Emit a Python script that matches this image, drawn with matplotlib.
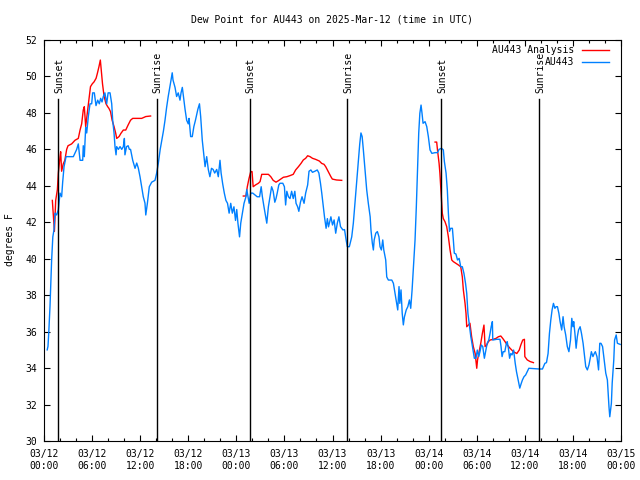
import matplotlib
matplotlib.use('Agg')
import matplotlib.pyplot as plt
from matplotlib.ticker import MultipleLocator

nan = float('nan')

title = 'Dew Point for AU443 on 2025-Mar-12 (time in UTC)'
y_label = 'degrees F'
tick_hours = list(range(0, 73, 6))
tick_labels = ['03/12\n00:00', '03/12\n06:00', '03/12\n12:00', '03/12\n18:00',
               '03/13\n00:00', '03/13\n06:00', '03/13\n12:00', '03/13\n18:00',
               '03/14\n00:00', '03/14\n06:00', '03/14\n12:00', '03/14\n18:00',
               '03/15\n00:00']
y_ticks = list(range(30, 53, 2))

# sunrise / sunset, hours after 03/12 00:00 UTC
sun_hours = [1.8, 14.05, 25.7, 37.85, 49.6, 61.8]
sun_names = ['Sunset', 'Sunrise', 'Sunset', 'Sunrise', 'Sunset', 'Sunrise']

# observed dew point (AU443)
obs_hours = [0.4, 0.5, 0.6, 0.75, 0.85, 0.95, 1.1, 1.25, 1.37, 1.58, 1.79, 2.0, 2.2, 2.33, 2.5,
             2.75, 3.66, 4.08, 4.28, 4.5, 4.83, 4.9, 5.03, 5.2, 5.33, 5.53, 5.74, 5.95, 6.07,
             6.28, 6.49, 6.7, 6.9, 7.07, 7.24, 7.4, 7.6, 7.82, 8.0, 8.24, 8.45, 8.57, 8.74,
             8.86, 8.99, 9.07, 9.28, 9.49, 9.7, 9.9, 10.03, 10.1, 10.3, 10.5, 10.65, 10.8,
             11.07, 11.36, 11.57, 11.77, 11.98, 12.19, 12.39, 12.6, 12.7, 12.9, 13.14, 13.44,
             13.85, 14.06, 14.27, 14.5, 14.7, 14.9, 15.1, 15.3, 15.5, 15.7, 15.85, 16.0, 16.1,
             16.35, 16.55, 16.75, 16.97, 17.1, 17.26, 17.4, 17.6, 17.8, 18.0, 18.1, 18.3, 18.5,
             18.7, 18.9, 19.2, 19.4, 19.55, 19.75, 19.97, 20.1, 20.3, 20.5, 20.7, 20.9, 21.1,
             21.3, 21.55, 21.75, 21.96, 22.1, 22.3, 22.5, 22.7, 22.9, 23.1, 23.3, 23.5, 23.7,
             23.9, 24.05, 24.2, 24.4, 24.55, 24.75, 24.96, 25.2, 25.3, 25.5, 25.6, 25.8, 26.05,
             26.33, 26.6, 26.9, 27.1, 27.25, 27.45, 27.67, 27.8, 28.0, 28.2, 28.4, 28.6, 28.8,
             28.95, 29.1, 29.3, 29.45, 29.8, 30.0, 30.15, 30.3, 30.5, 30.7, 30.9, 31.1, 31.3,
             31.45, 31.65, 31.8, 32.0, 32.2, 32.45, 32.65, 32.9, 33.07, 33.3, 33.5, 33.8, 34.1,
             34.3, 34.5, 34.66, 34.86, 35.0, 35.2, 35.36, 35.5, 35.8, 36.0, 36.2, 36.4, 36.6,
             36.8, 37.0, 37.3, 37.5, 37.7, 37.85, 38.1, 38.4, 38.6, 38.8, 39.0, 39.2, 39.4,
             39.55, 39.7, 39.85, 40.06, 40.27, 40.47, 40.7, 40.8, 40.97, 41.1, 41.2, 41.4, 41.6,
             41.8, 41.93, 42.1, 42.27, 42.4, 42.64, 42.77, 42.97, 43.4, 43.6, 43.8, 44.0, 44.14,
             44.3, 44.4, 44.55, 44.7, 44.84, 44.97, 45.2, 45.4, 45.6, 45.76, 45.93, 46.1, 46.3,
             46.46, 46.6, 46.76, 46.9, 47.05, 47.17, 47.3, 47.55, 47.76, 47.96, 48.17, 48.4,
             48.8, 49.1, 49.3, 49.6, 49.83, 49.96, 50.17, 50.33, 50.46, 50.6, 50.75, 50.96,
             51.08, 51.2, 51.4, 51.6, 51.8, 52.0, 52.2, 52.4, 52.6, 52.75, 52.9, 53.1, 53.26,
             53.4, 53.6, 53.7, 53.9, 54.07, 54.25, 54.4, 54.57, 54.75, 54.95, 55.1, 55.3, 55.5,
             55.66, 55.8, 55.95, 56.0, 56.5, 56.9, 57.03, 57.16, 57.3, 57.5, 57.7, 57.8, 57.95,
             58.1, 58.25, 58.4, 58.6, 58.8, 58.96, 59.17, 59.37, 59.53, 59.7, 59.9, 60.1, 60.3,
             60.5, 61.8, 62.2, 62.5, 62.7, 62.9, 63.07, 63.24, 63.4, 63.57, 63.75, 63.9, 64.07,
             64.25, 64.4, 64.6, 64.77, 64.9, 65.1, 65.3, 65.5, 65.7, 65.86, 66.0, 66.1, 66.25,
             66.4, 66.55, 66.7, 66.9, 67.07, 67.27, 67.5, 67.6, 67.8, 68.0, 68.2, 68.3, 68.5,
             68.66, 68.8, 69.0, 69.2, 69.35, 69.5, 69.7, 69.9, 70.1, 70.3, 70.4, 70.5, 70.6,
             70.8, 70.9, 71.1, 71.2, 71.4, 71.55, 71.9]
obs_dewpt = [35.0, 35.2, 36.0, 37.4, 38.7, 39.9, 41.2, 41.6, 42.5, 42.4, 42.7, 43.6, 43.4, 44.2, 45.05,
             45.6, 45.6, 46.0, 46.3, 45.4, 45.4, 46.2, 45.6, 47.2, 46.9, 47.8, 48.5, 48.5, 49.1,
             49.1, 48.4, 48.7, 48.5, 48.8, 48.6, 48.9, 49.1, 48.5, 49.1, 49.1, 48.5, 47.6, 46.9,
             46.15, 45.7, 46.15, 46.0, 46.15, 46.0, 46.15, 46.6, 45.7, 46.15, 46.2, 46.0, 46.0,
             45.4, 44.96, 45.25, 44.97, 44.5, 43.95, 43.4, 43.05, 42.4, 43.04, 43.95, 44.2,
             44.3, 44.7, 45.25, 46.0, 46.5, 47.0, 47.6, 48.3, 48.9, 49.4, 49.8, 50.2, 49.8,
             49.4, 48.9, 49.1, 48.7, 49.1, 49.4, 48.9, 48.2, 47.6, 47.4, 47.7, 46.7, 46.7,
             47.25, 47.6, 48.2, 48.5, 47.8, 46.5, 45.6, 45.05, 45.6, 44.9, 44.5, 44.96, 44.9,
             44.7, 44.9, 44.5, 45.4, 44.7, 44.1, 43.6, 43.2, 43.04, 42.5, 43.04, 42.5, 42.85,
             42.1, 42.7, 41.95, 41.2, 41.95, 42.5, 43.04, 43.4, 43.8, 43.3, 43.04, 43.6, 43.6,
             43.5, 43.4, 43.4, 43.95, 43.4, 42.85, 42.3, 41.95, 42.85, 43.4, 43.95, 43.7, 43.1,
             43.3, 43.6, 44.05, 44.14, 44.14, 43.95, 42.95, 43.7, 43.4, 43.3, 43.7, 43.3, 43.7,
             43.04, 42.85, 42.6, 43.1, 43.4, 43.04, 43.6, 44.05, 44.8, 44.87, 44.74, 44.8, 44.87,
             44.7, 44.14, 43.6, 42.85, 42.3, 41.67, 42.2, 41.75, 42.3, 41.85, 42.13, 41.4, 41.95,
             42.3, 41.76, 41.58, 41.6, 41.03, 40.66, 40.66, 41.2, 41.95, 43.04, 44.14, 45.2, 46.3,
             46.9, 46.7, 45.97, 44.87, 43.77, 43.04, 42.3, 41.58, 40.85, 40.48, 41.03, 41.4, 41.49,
             41.2, 40.66, 40.48, 41.03, 40.48, 39.93, 39.0, 38.83, 38.83, 38.65, 38.1, 37.55, 37.19,
             38.47, 37.55, 38.29, 37.0, 36.37, 36.8, 37.19, 37.37, 37.74, 37.28, 38.28, 39.56, 41.03,
             42.85, 44.7, 46.9, 47.98, 48.43, 47.98, 47.43, 47.52, 47.25, 46.7, 45.97, 45.78,
             45.82, 45.82, 46.0, 46.06, 45.97, 45.33, 44.7, 43.77, 42.5, 41.5, 41.67, 41.67,
             41.03, 40.3, 40.26, 39.93, 40.02, 39.56, 39.56, 39.2, 38.65, 38.1, 37.0, 36.27, 35.72,
             35.36, 34.8, 34.54, 34.54, 34.99, 34.63, 34.9, 35.27, 35.18, 34.54, 34.9, 35.36, 35.54,
             35.9, 36.27, 36.55, 35.54, 35.58, 35.58, 35.18, 34.63, 34.9, 34.9, 35.36, 35.45, 35.09,
             34.54, 34.8, 34.72, 34.99, 34.26, 33.8, 33.35, 32.9, 33.13, 33.35, 33.53, 33.62, 33.8,
             33.99, 33.95, 33.95, 34.26, 34.3, 34.8, 35.9, 36.64, 37.19, 37.55, 37.28, 37.37, 37.37,
             37.0, 36.55, 36.09, 36.82, 36.27, 35.82, 35.18, 34.9, 35.54, 36.73, 36.27, 36.55, 35.9,
             35.09, 35.72, 36.09, 36.27, 35.9, 35.36, 34.45, 34.08, 33.9, 34.17, 34.63, 34.9, 34.63,
             34.8, 34.9, 34.63, 33.9, 35.36, 35.36, 35.18, 34.45, 33.72, 33.35, 32.62, 31.88, 31.33,
             32.07, 33.17, 34.45, 35.54, 35.82, 35.36, 35.3]

# analysis dew point (AU443 Analysis), three runs separated by gaps
ana_hours = [1.04, 1.3, 1.46, 1.67, 1.79, 2.0, 2.08, 2.2, 2.4, 2.6, 2.83, 3.0, 3.45, 3.87, 4.28,
             4.5, 4.7, 4.9, 5.03, 5.2, 5.4, 5.6, 5.8, 6.03, 6.24, 6.5, 6.66, 6.86, 7.03, 7.15,
             7.3, 7.5, 7.74, 7.95, 8.1, 8.3, 8.5, 8.74, 8.95, 9.07, 9.36, 9.6, 9.9, 10.2, 10.5,
             10.8, 11.07, 11.57, 12.19, 12.7, 13.3,
             nan,
             24.87, 25.2, 25.37, 25.58, 25.8, 25.96, 26.1, 26.4, 26.75, 26.96, 27.17, 27.58, 28.0,
             28.3, 28.6, 28.95, 29.25, 29.54, 29.87, 30.3, 30.7, 31.1, 31.4, 31.75, 32.07, 32.36,
             32.65, 32.9, 33.2, 33.5, 33.9, 34.36, 34.65, 34.94, 35.15, 35.36, 35.57, 35.8, 35.98,
             36.5, 37.15,
             nan,
             48.8, 49.0, 49.1, 49.3, 49.4, 49.5, 49.6, 49.7, 49.83, 50.04, 50.25, 50.46, 50.67,
             50.88, 51.08, 51.4, 51.7, 52.0, 52.2, 52.33, 52.54, 52.66, 52.75, 52.95, 53.15, 53.36,
             53.57, 53.8, 54.0, 54.1, 54.3, 54.5, 54.7, 54.9, 55.04, 55.25, 55.45, 55.66, 56.07,
             56.4, 56.7, 57.0, 57.24, 57.53, 57.8, 58.15, 58.57, 59.0, 59.3, 59.5, 59.74, 59.95,
             60.0, 60.3, 60.65, 61.07]
ana_dewpt = [43.2, 41.5, 43.2, 43.8, 44.7, 45.6, 45.87, 44.8, 45.2, 45.4, 46.0, 46.2, 46.3, 46.5, 46.6,
             47.06, 47.4, 48.16, 48.34, 47.25, 47.98, 48.7, 49.44, 49.6, 49.7, 49.9, 50.17, 50.54,
             50.9, 50.35, 49.6, 48.9, 48.5, 48.34, 48.25, 48.07, 47.6, 47.25, 46.88, 46.6, 46.7,
             46.88, 47.06, 47.06, 47.34, 47.6, 47.7, 47.7, 47.7, 47.8, 47.83,
             nan,
             43.44, 43.44, 43.95, 44.4, 44.78, 44.78, 43.95, 44.05, 44.14, 44.23, 44.63, 44.63, 44.63,
             44.5, 44.3, 44.2, 44.28, 44.37, 44.47, 44.5, 44.56, 44.63, 44.87, 45.05, 45.23, 45.42,
             45.51, 45.65, 45.6, 45.51, 45.45, 45.36, 45.23, 45.18, 45.05, 44.87, 44.7, 44.5, 44.37,
             44.32, 44.3,
             nan,
             46.4, 46.4, 45.97, 45.23, 44.7, 43.95, 43.22, 42.5, 42.2, 42.03, 41.76, 41.2, 40.48,
             39.93, 39.84, 39.75, 39.66, 39.56, 39.0, 38.28, 37.55, 37.0, 36.27, 36.36, 36.46, 35.72,
             35.18, 34.8, 33.99, 34.45, 34.9, 35.36, 35.9, 36.36, 35.18, 35.27, 35.45, 35.54, 35.58,
             35.63, 35.72, 35.76, 35.63, 35.45, 35.27, 35.09, 34.9, 34.8, 34.99, 35.27, 35.54, 35.58,
             34.63, 34.45, 34.36, 34.3]

plt.rcParams['font.family'] = 'DejaVu Sans Mono'
plt.rcParams['font.size'] = 7

fig = plt.figure(figsize=(6.4, 4.8), dpi=100)
ax = fig.add_axes([44 / 640, 39 / 480, 577 / 640, 401 / 480])

ax.plot(ana_hours, ana_dewpt, color='#ff0000', lw=1.0)
ax.plot(obs_hours, obs_dewpt, color='#0080ff', lw=1.0)

# day/night markers
for h, name in zip(sun_hours, sun_names):
    ax.plot([h, h], [30, 48.75], color='black', lw=1.0)
    ax.text(h + 0.1, 49.1, name, rotation=90, ha='center', va='bottom')

ax.set_xlim(0, 72)
ax.set_ylim(30, 52)
ax.set_xticks(tick_hours)
ax.set_xticklabels(tick_labels)
ax.xaxis.set_minor_locator(MultipleLocator(2))
ax.set_yticks(y_ticks)
ax.tick_params(which='both', direction='in', top=True, right=True, width=0.8)
ax.tick_params(which='major', length=4)
ax.tick_params(which='minor', length=2)
ax.tick_params(axis='x', pad=6)
ax.tick_params(axis='y', pad=5)
for s in ax.spines.values():
    s.set_linewidth(0.8)

# gnuplot-style key: text right-aligned, sample line on the right
ax.text(0.9185, 0.976, 'AU443 Analysis', transform=ax.transAxes, ha='right', va='center')
ax.plot([0.932, 0.979], [0.976, 0.976], transform=ax.transAxes, color='#ff0000', lw=1.0)
ax.text(0.9185, 0.945, 'AU443', transform=ax.transAxes, ha='right', va='center')
ax.plot([0.932, 0.979], [0.945, 0.945], transform=ax.transAxes, color='#0080ff', lw=1.0)

fig.text(332 / 640, 1 - 19 / 480, title, ha='center', va='center')
fig.text(10 / 640, 0.5, y_label, rotation=90, ha='center', va='center')

fig.savefig('out.png', dpi=100)
